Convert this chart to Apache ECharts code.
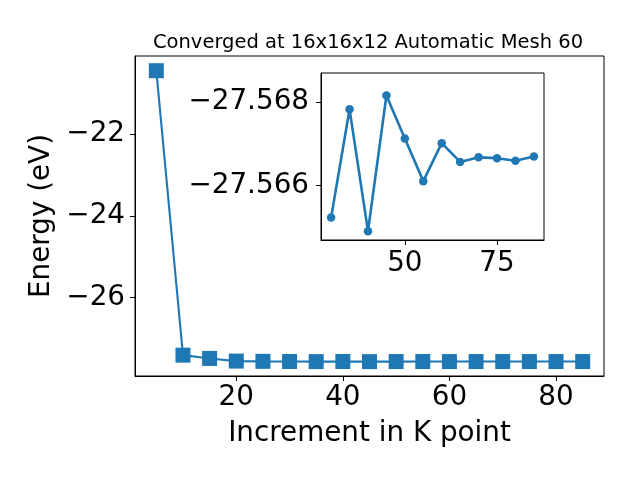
<!DOCTYPE html>
<html><head><meta charset="utf-8">
<script src="https://cdn.jsdelivr.net/npm/echarts@6/dist/echarts.min.js"></script>
<style>html,body{margin:0;padding:0;background:#fff}#c{width:640px;height:480px}</style>
</head><body><div id="c"></div>
<script>
const kpoints = [5,10,15,20,25,30,35,40,45,50,55,60,65,70,75,80,85];
const energy = [-20.45,-27.41,-27.49,-27.555,-27.561,-27.56523,-27.56782,-27.5649,-27.56815,-27.56712,-27.5661,-27.56701,-27.56656,-27.56667,-27.56665,-27.56659,-27.56669];
const insetStart = 5;
const mainXTicks = [20,40,60,80];
const mainYTicks = [-22,-24,-26];
const insetXTicks = [50,75];
const insetYTicks = [-27.568,-27.566];
const titleText = 'Converged at 16x16x12 Automatic Mesh 60';
const xName = 'Increment in K point';
const yName = 'Energy (eV)';

const C = '#1f77b4';
const F = 'DejaVu Sans';
const FS = 27.8;
const minus = s => String(s).replace('-', '\u2212');
const mainData = kpoints.map((k,i)=>[k, energy[i]]);
const insetData = kpoints.slice(insetStart).map((k,i)=>[k, energy[i+insetStart]]);

const chart = echarts.init(document.getElementById('c'), null, {renderer:'canvas'});
const axisCommon = ()=>({
  axisLine:{show:true,onZero:false,lineStyle:{color:'#000',width:1}},
  splitLine:{show:false},
});
chart.setOption({
  animation:false,
  title:{text:titleText,left:363,top:28,textAlign:'center',textStyle:{fontFamily:F,fontSize:19.5,fontWeight:'normal',color:'#000'}},
  grid:[
    {left:135,top:56,width:469,height:320,show:true,borderColor:'#000',borderWidth:1,backgroundColor:'transparent'},
    {left:321,top:73,width:223,height:167,show:true,borderColor:'#000',borderWidth:1,backgroundColor:'#fff'}
  ],
  xAxis:[
    Object.assign(axisCommon(),{gridIndex:0,type:'value',min:1,max:89,
      name:xName,nameLocation:'middle',nameGap:44,nameTextStyle:{fontFamily:F,fontSize:FS,color:'#000'},
      axisTick:{show:true,length:5,lineStyle:{color:'#000'},customValues:mainXTicks},
      axisLabel:{customValues:mainXTicks,fontFamily:F,fontSize:FS,color:'#000',margin:8}}),
    Object.assign(axisCommon(),{gridIndex:1,type:'value',min:27.25,max:87.75,
      axisTick:{show:true,length:5,lineStyle:{color:'#000'},customValues:insetXTicks},
      axisLabel:{customValues:insetXTicks,fontFamily:F,fontSize:FS,color:'#000',margin:10}})
  ],
  yAxis:[
    Object.assign(axisCommon(),{gridIndex:0,type:'value',min:-27.92,max:-20.09,
      name:yName,nameLocation:'middle',nameGap:77,nameTextStyle:{fontFamily:F,fontSize:FS,color:'#000'},
      axisTick:{show:true,length:5,lineStyle:{color:'#000'},customValues:mainYTicks},
      axisLabel:{customValues:mainYTicks,fontFamily:F,fontSize:FS,color:'#000',margin:10,formatter:v=>minus(v)}}),
    Object.assign(axisCommon(),{gridIndex:1,type:'value',inverse:true,min:-27.56869,max:-27.56469,
      axisTick:{show:true,length:5,lineStyle:{color:'#000'},customValues:insetYTicks},
      axisLabel:{customValues:insetYTicks,fontFamily:F,fontSize:FS,color:'#000',margin:12,formatter:v=>minus(v.toFixed(3))}})
  ],
  series:[
    {type:'line',xAxisIndex:0,yAxisIndex:0,data:mainData,symbol:'rect',symbolSize:15,
      lineStyle:{color:C,width:2.1},itemStyle:{color:C},z:2},
    {type:'line',xAxisIndex:1,yAxisIndex:1,data:insetData,symbol:'circle',symbolSize:8.5,
      lineStyle:{color:C,width:2.6},itemStyle:{color:C},z:5}
  ]
});
</script></body></html>
